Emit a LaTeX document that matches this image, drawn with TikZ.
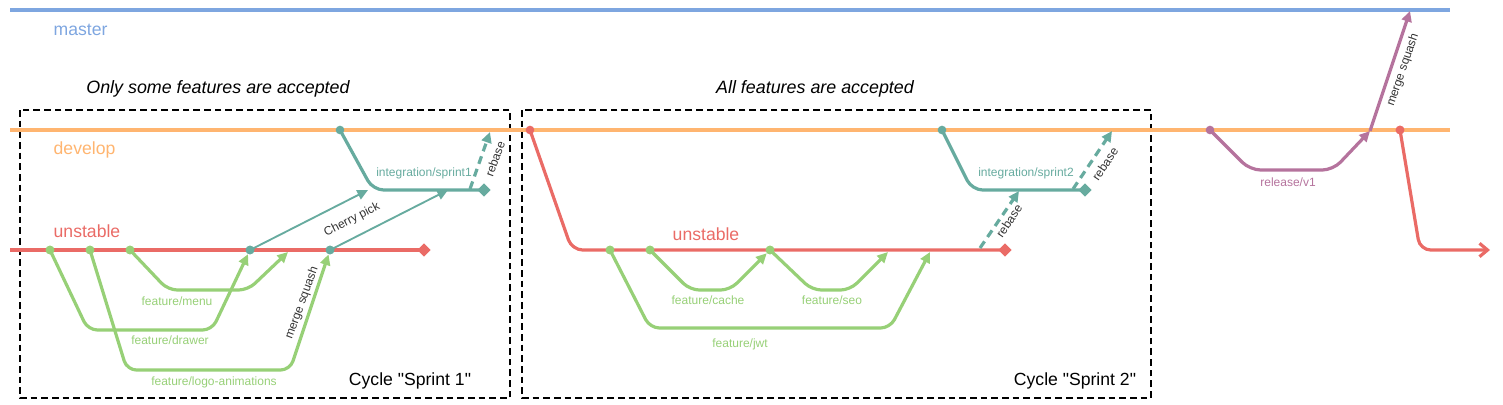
\documentclass[tikz,border=0pt]{standalone}
\usepackage{fontspec}
\setmainfont{Liberation Sans}
\usepackage{tikz}
\usetikzlibrary{arrows.meta}
\usetikzlibrary{shapes.geometric}

\definecolor{masterblue}{HTML}{7EA6E0}
\definecolor{developorange}{HTML}{FFB570}
\definecolor{unstablered}{HTML}{EA6B66}
\definecolor{featuregreen}{HTML}{97D077}
\definecolor{integrationteal}{HTML}{67AB9F}
\definecolor{releasepurple}{HTML}{B5739D}
\definecolor{notegray}{HTML}{333333}

\tikzset{
    branch/.style={line width=2.4pt, line join=round},
    pick/.style={line width=1.4pt, -{Triangle[length=8pt,width=7.5pt]}},
    merge/.style={-{Triangle[length=8pt,width=7.5pt]}},
    rebase/.style={line width=2.4pt, dash pattern=on 6pt off 4pt, -{Triangle[length=8pt,width=7.5pt]}},
    commit/.style={circle, fill=#1, inner sep=0pt, minimum size=6.5pt},
    head/.style={diamond, fill=#1, inner sep=0pt, minimum size=10pt},
    biglabel/.style={font=\fontsize{13.2}{15}\selectfont},
    smalllabel/.style={font=\fontsize{9}{11}\selectfont, inner sep=1pt},
    cyclebox/.style={line width=1.1pt, dash pattern=on 5pt off 3pt}
}

\begin{document}
\begin{tikzpicture}[x=0.75pt, y=-0.75pt]
                \useasboundingbox (0,0) rectangle (1503,404);
                \draw[cyclebox] (20,110) rectangle (510,398);
                \draw[cyclebox] (522,110) rectangle (1151,398);
                \coordinate (masterStart) at (10,10);
                \coordinate (masterEnd) at (1450,10);
                \coordinate (developStart) at (10,130);
                \coordinate (developEnd) at (1450,130);
                \coordinate (unstableStart) at (10,250);
                \draw[branch, color=masterblue] (masterStart) -- (masterEnd);
                \draw[branch, color=developorange] (developStart) -- (developEnd);
                \node[biglabel, text=masterblue, anchor=west] (masterLabel) at (49,30) {master};
                \node[biglabel, text=developorange, anchor=west] (developLabel) at (49,150) {develop};
                \node[biglabel, text=unstablered, anchor=west] (unstableLabelOne) at (49,231) {unstable};
                \node[font=\fontsize{13.4}{15}\selectfont\itshape] (noteOne) at (218,89) {Only some features are accepted};
                \node[font=\fontsize{13.4}{15}\selectfont\itshape] (noteTwo) at (815,89) {All features are accepted};
                \node[biglabel] (cycleOne) at (410,381) {Cycle \textquotedbl Sprint 1\textquotedbl};
                \node[biglabel] (cycleTwo) at (1075,381) {Cycle \textquotedbl Sprint 2\textquotedbl};
                \node[head=unstablered] (unstableOneHead) at (424,250) {};
                \draw[branch, color=unstablered] (unstableStart) -- (unstableOneHead.center);
                \node[commit=featuregreen] (drawerStart) at (50,250) {};
                \node[commit=featuregreen] (logoStart) at (90,250) {};
                \node[commit=featuregreen] (menuStart) at (130,250) {};
                \node[commit=integrationteal] (pickOne) at (250,250) {};
                \node[commit=integrationteal] (pickTwo) at (330,250) {};
                \coordinate (menuEnd) at (288,252);
                \draw[branch, merge, color=featuregreen, rounded corners=7pt] (drawerStart.center) -- ++(38,80) -- ++(124,0) -- (pickOne);
                \draw[branch, merge, color=featuregreen, rounded corners=7pt] (menuStart.center) -- ++(38,40) -- ++(80,0) -- (menuEnd);
                \draw[branch, merge, color=featuregreen, rounded corners=7pt] (logoStart.center) -- ++(37,120) -- ++(163,0) -- (pickTwo);
                \node[commit=featuregreen] at (drawerStart) {};
                \node[commit=featuregreen] at (logoStart) {};
                \node[commit=featuregreen] at (menuStart) {};
                \node[smalllabel, text=featuregreen] (menuLabel) at (177,301) {feature/menu};
                \node[smalllabel, text=featuregreen] (drawerLabel) at (170,340) {feature/drawer};
                \node[smalllabel, text=featuregreen] (logoLabel) at (214,382) {feature/logo-animations};
                \node[smalllabel, text=notegray, rotate=70] (squashOne) at (302,303) {merge squash};
                \node[commit=integrationteal] (integrationOneStart) at (340,130) {};
                \node[head=integrationteal] (integrationOneHead) at (484,190) {};
                \draw[branch, color=integrationteal, rounded corners=8pt] (integrationOneStart.center) -- ++(33,60) -- (integrationOneHead.center);
                \coordinate (pickOneEnd) at (368,190);
                \coordinate (pickTwoEnd) at (448,190);
                \draw[pick, color=integrationteal] (pickOne.center) -- (pickOneEnd);
                \draw[pick, color=integrationteal] (pickTwo.center) -- (pickTwoEnd);
                \node[commit=integrationteal] at (pickOne) {};
                \node[commit=integrationteal] at (pickTwo) {};
                \node[smalllabel, text=notegray, rotate=27] (pickLabel) at (352,220) {Cherry pick};
                \node[smalllabel, text=integrationteal] (integrationOneLabel) at (424,173) {integration/sprint1};
                \coordinate (rebaseOneStart) at (470,189);
                \coordinate (rebaseOneEnd) at (490,132);
                \draw[rebase, color=integrationteal] (rebaseOneStart) -- (rebaseOneEnd);
                \node[smalllabel, text=notegray, rotate=70] (rebaseOneLabel) at (495,159) {rebase};
                \node[commit=unstablered] (unstableTwoStart) at (530,130) {};
                \node[head=unstablered] (unstableTwoHead) at (1005,250) {};
                \draw[branch, color=unstablered, rounded corners=8pt] (unstableTwoStart.center) -- ++(42,120) -- (unstableTwoHead.center);
                \node[biglabel, text=unstablered] (unstableLabelTwo) at (706,234) {unstable};
                \node[commit=featuregreen] (jwtStart) at (610,250) {};
                \node[commit=featuregreen] (cacheStart) at (650,250) {};
                \node[commit=featuregreen] (seoStart) at (770,250) {};
                \coordinate (seoEnd) at (888,252);
                \coordinate (jwtEnd) at (930,252);
                \draw[branch, merge, color=featuregreen, rounded corners=7pt] (jwtStart.center) -- ++(40,78) -- ++(240,0) -- (jwtEnd);
                \draw[branch, merge, color=featuregreen, rounded corners=7pt] (cacheStart.center) -- ++(40,40) -- ++(40,0) -- (seoStart);
                \draw[branch, merge, color=featuregreen, rounded corners=7pt] (seoStart.center) -- ++(42,40) -- ++(38,0) -- (seoEnd);
                \node[commit=featuregreen] at (jwtStart) {};
                \node[commit=featuregreen] at (cacheStart) {};
                \node[commit=featuregreen] at (seoStart) {};
                \node[smalllabel, text=featuregreen] (cacheLabel) at (708,300) {feature/cache};
                \node[smalllabel, text=featuregreen] (seoLabel) at (832,300) {feature/seo};
                \node[smalllabel, text=featuregreen] (jwtLabel) at (740,344) {feature/jwt};
                \node[commit=integrationteal] (integrationTwoStart) at (942,130) {};
                \node[head=integrationteal] (integrationTwoHead) at (1085,190) {};
                \draw[branch, color=integrationteal, rounded corners=8pt] (integrationTwoStart.center) -- ++(30,60) -- (integrationTwoHead.center);
                \node[smalllabel, text=integrationteal] (integrationTwoLabel) at (1026,173) {integration/sprint2};
                \coordinate (rebaseTwoStart) at (980,248);
                \coordinate (rebaseTwoEnd) at (1019,191);
                \coordinate (rebaseThreeStart) at (1073,189);
                \coordinate (rebaseThreeEnd) at (1112,131);
                \draw[rebase, color=integrationteal] (rebaseTwoStart) -- (rebaseTwoEnd);
                \draw[rebase, color=integrationteal] (rebaseThreeStart) -- (rebaseThreeEnd);
                \node[smalllabel, text=notegray, rotate=56] (rebaseTwoLabel) at (1009,221) {rebase};
                \node[smalllabel, text=notegray, rotate=56] (rebaseThreeLabel) at (1105,164) {rebase};
                \node[commit=releasepurple] (releaseStart) at (1210,130) {};
                \coordinate (releaseMerge) at (1370,131);
                \coordinate (masterMerge) at (1410,11);
                \draw[branch, merge, color=releasepurple, rounded corners=8pt] (releaseStart.center) -- ++(40,40) -- ++(83,0) -- (releaseMerge);
                \draw[branch, merge, color=releasepurple] (releaseMerge) -- (masterMerge);
                \node[smalllabel, text=releasepurple] (releaseLabel) at (1288,182) {release/v1};
                \node[smalllabel, text=notegray, rotate=71] (squashTwo) at (1403,70) {merge squash};
                \node[commit=unstablered] (hotfixStart) at (1400,130) {};
                \coordinate (unstableEnd) at (1490,250);
                \draw[branch, color=unstablered, rounded corners=8pt, -{Straight Barb[length=6pt,width=10pt]}] (hotfixStart.center) -- ++(20,120) -- (unstableEnd);
                \node[commit=unstablered] at (hotfixStart) {};
\end{tikzpicture}
\end{document}
